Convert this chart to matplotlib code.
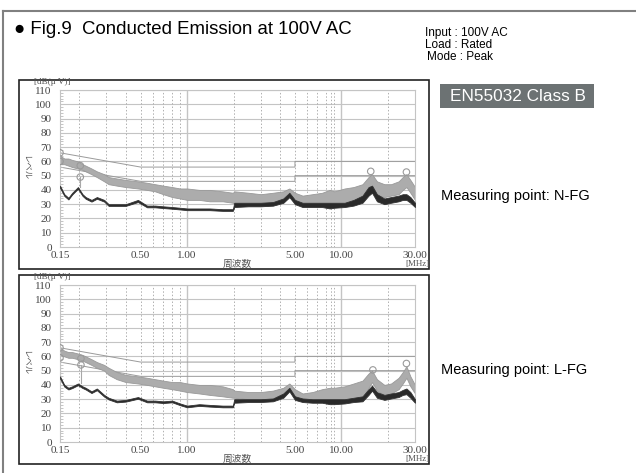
import matplotlib
matplotlib.use("Agg")
import matplotlib.pyplot as plt
from matplotlib.patches import Rectangle
from matplotlib.lines import Line2D

W, H = 636, 473

# frequency grid (MHz) shared by both measurements
freq = [0.15, 0.16, 0.17, 0.18, 0.196, 0.21, 0.22, 0.24, 0.26, 0.29, 0.31, 0.35,
        0.4, 0.48, 0.55, 0.62, 0.7, 0.8, 0.9, 1.0, 1.2, 1.4, 1.7, 1.98, 2.02,
        2.5, 3.0, 3.6, 4.2, 4.6, 5.0, 5.6, 6.5, 7.5, 8.4, 9.0, 10.5, 12.0, 13.7,
        15.0, 15.8, 17.0, 19.0, 21.0, 23.5, 25.0, 26.4, 28.0, 30.0]

# N-FG : peak (grey band) and average (black band) envelopes, dB(uV)
nfg_peak_hi = [64, 62, 62, 61, 60, 58, 57, 55, 53, 51, 49, 48, 47, 46, 45, 44, 43, 42, 41, 41,
               40, 40, 39, 38, 39, 38, 37, 38, 39, 41, 38, 36, 37, 38, 40, 39, 41, 42, 44,
               49, 51, 46, 44, 44, 46, 49, 51, 47, 42]
nfg_peak_lo = [58, 58, 57, 56, 55, 54, 53, 51, 49, 46, 44, 43, 42, 41, 40, 39, 37, 35, 34, 33,
               33, 32, 32, 31, 30, 29, 29, 29, 31, 35, 31, 29, 29, 29, 28, 29, 30, 31, 33,
               39, 42, 36, 35, 36, 37, 40, 42, 38, 33]
nfg_avg_hi = [43, 37, 34.5, 38, 42, 37, 35, 33, 35, 33, 30, 30, 30, 33, 29, 29, 28.5, 28, 27.5, 27,
              27, 27, 26.5, 26.5, 31, 31, 31, 31.5, 34, 38, 33, 31, 31, 31, 31, 31, 31, 33, 36,
              42, 43, 37, 34, 35, 36, 37, 37, 35, 31]
nfg_avg_lo = [41.5, 35.8, 33.3, 36.8, 40.8, 35.8, 33.8, 31.8, 33.8, 31.8, 28.8, 28.8, 28.8, 31.5,
              27.8, 27.8, 27.3, 26.8, 26.3, 25.8, 25.8, 25.8, 25.3, 25.3, 28, 28.5, 28.5, 29, 31,
              35, 30, 28, 28, 28, 27, 27.5, 28, 29, 31, 36, 38, 32, 30, 31, 32, 33, 33, 31, 28]

# L-FG
lfg_peak_hi = [66, 64, 63, 63, 62, 61, 60, 58, 56, 54, 52, 49, 47, 46, 45, 44, 43, 42, 42, 41,
               40, 40, 39, 37, 36, 35, 35, 36, 38, 41, 37, 34, 35, 37, 38, 38, 39, 41, 43,
               48, 50, 44, 40, 41, 45, 49, 53, 46, 40]
lfg_peak_lo = [61, 60, 59, 59, 58, 57, 56, 54, 52, 50, 47, 44, 42, 41, 40, 39, 38, 37, 36, 35,
               34, 33, 32, 31, 31, 30, 30, 30, 32, 37, 32, 29, 29, 29, 28, 28, 28, 29, 31,
               38, 42, 36, 33, 34, 37, 41, 45, 39, 34]
lfg_avg_hi = [46, 40, 38, 39, 41, 39, 38, 35.5, 37.5, 33, 31, 29, 29.5, 31.5, 29, 29, 28.5, 29, 27, 25.5,
              26.5, 26, 25.5, 25.5, 30, 30, 30, 30.5, 34, 38, 32, 30.5, 30, 30, 30, 30, 30, 31, 32,
              37, 39.5, 35, 33, 34, 35, 36.5, 37.5, 35, 30]
lfg_avg_lo = [44.5, 38.8, 36.8, 37.8, 39.8, 37.8, 36.8, 34.3, 36.3, 31.8, 29.8, 27.8, 28.3, 30.3,
              27.8, 27.8, 27.3, 27.8, 25.8, 24.3, 25.3, 24.8, 24.3, 24.3, 27.5, 28, 28, 28.5, 31,
              35.5, 29.5, 28, 27.5, 27.5, 26.5, 26.5, 27, 28, 28.5, 33, 36, 31, 29.5, 30.5, 31.5,
              33, 33.5, 31, 27.5]

# EN55032 class B limits (QP / AV)
lim_f = [0.15, 0.5, 5.0, 5.0, 30.0]
lim_qp = [66, 56, 56, 60, 60]
lim_av = [56, 46, 46, 50, 50]

# measured markers
nfg_mk_f = [0.15, 0.15, 0.203, 0.203, 15.5, 26.4]
nfg_mk_db = [66, 60, 57, 49, 53, 52.5]
nfg_stem = [(0.203, 49, 42)]
lfg_mk_f = [0.15, 0.15, 0.205, 0.205, 16.0, 26.4]
lfg_mk_db = [66, 59, 58.5, 54, 50.5, 55]
lfg_stem = [(0.15, 59, 45), (0.205, 54, 41)]

xticks = [0.15, 0.5, 1.0, 5.0, 10.0, 30.0]
xtick_labels = ["0.15", "0.50", "1.00", "5.00", "10.00", "30.00"]
solid_v = [1.0, 10.0]
dotted_v = [0.2, 0.3, 0.4, 0.5, 0.6, 0.7, 0.8, 0.9, 2, 3, 4, 5, 6, 7, 8, 8.6, 9, 20]

SERIF = ["Liberation Serif", "DejaVu Serif"]
SANS = ["Liberation Sans", "DejaVu Sans"]
JP = ["Noto Sans CJK JP", "DejaVu Sans"]


def fx(x):
    return x / W


def fy(y):
    return 1 - y / H


fig = plt.figure(figsize=(W / 100, H / 100), dpi=100)

# outer frame (top + left edges)
fig.add_artist(Line2D([fx(3), 1.0], [fy(11), fy(11)], color="#808080", lw=1.5))
fig.add_artist(Line2D([fx(3), fx(3)], [fy(11), 0.0], color="#808080", lw=1.5))

fig.text(fx(14), fy(29), "\u25cf Fig.9  Conducted Emission at 100V AC", family=SANS,
         fontsize=13.4, va="center", ha="left")
for i, s in enumerate(["Input : 100V AC", "Load : Rated", "Mode : Peak"]):
    fig.text(fx(425 + (2 if i == 2 else 0)), fy(33 + 12 * i), s, family=SANS,
             fontsize=8.5, va="center", ha="left")

fig.add_artist(Rectangle((fx(440), fy(108)), fx(154), 24 / H, transform=fig.transFigure,
                         fc="#6c7273", ec="none"))
fig.text(fx(450), fy(96.5), "EN55032 Class B", family=SANS, fontsize=12.4, color="white",
         va="center", ha="left")


def panel(top, peak_hi, peak_lo, avg_hi, avg_lo, mk_f, mk_db, stems, label, label_y):
    # panel frame
    fig.add_artist(Rectangle((fx(19), fy(top + 189)), fx(410), 189 / H,
                             transform=fig.transFigure, fill=False, ec="#222", lw=1.2))
    ax_top = top + 10
    ax = fig.add_axes([fx(60), fy(ax_top + 157), fx(355), 157 / H])
    ax.set_xscale("log")
    ax.set_xlim(0.15, 30)
    ax.set_ylim(0, 110)

    for y in range(10, 111, 10):
        ax.axhline(y, color="#c4c4c4", lw=0.8, zorder=0)
    for v in solid_v:
        ax.axvline(v, color="#c4c4c4", lw=1.0, zorder=0)
    for v in dotted_v:
        ax.axvline(v, color="#b0b0b0", lw=0.7, ls=(0, (1.5, 2)), zorder=0)

    ax.plot(lim_f, lim_qp, color="#9a9a9a", lw=0.7, zorder=1)
    ax.plot(lim_f, lim_av, color="#9a9a9a", lw=0.7, zorder=1)

    ax.fill_between(freq, peak_lo, peak_hi, color="#acacac", lw=0.6, ec="#999999", zorder=2)
    ax.fill_between(freq, avg_lo, avg_hi, color="#2a2a2a", lw=0.6, ec="#333333", zorder=3)

    for f, t, b in stems:
        ax.plot([f, f], [b, t], color="#a8a8a8", lw=0.8, zorder=2)
    ax.scatter(mk_f, mk_db, s=22, facecolors="none", edgecolors="#9a9a9a", lw=0.8, zorder=4)

    ax.set_xticks(xticks)
    ax.set_xticklabels(xtick_labels)
    ax.xaxis.set_minor_locator(plt.NullLocator())
    ax.set_yticks(range(0, 111, 10))
    ax.set_yticks(range(0, 111, 2), minor=True)
    ax.tick_params(axis="x", length=0, pad=3, labelsize=8, labelcolor="#444")
    ax.tick_params(axis="y", which="major", length=0, pad=6, labelsize=8, labelcolor="#444")
    ax.tick_params(axis="y", which="minor", length=2.5, direction="in", color="#bbbbbb")
    for t in ax.get_xticklabels() + ax.get_yticklabels():
        t.set_family(SERIF)
    for sp in ax.spines.values():
        sp.set_color("#c4c4c4")
        sp.set_linewidth(0.8)

    fig.text(fx(34), fy(ax_top - 8), "[dB(\u03bc V)]", family=SERIF, fontsize=6.6,
             color="#555", va="center", ha="left")
    fig.text(fx(26), fy(ax_top + 78), "レベル", family=JP, fontsize=6, color="#555",
             rotation=-90, va="center", ha="center")
    fig.text(fx(237), fy(ax_top + 174), "周波数", family=JP, fontsize=7, color="#555",
             va="center", ha="center")
    fig.text(fx(429), fy(ax_top + 174), "[MHz]", family=SERIF, fontsize=6.5, color="#555",
             va="center", ha="right")
    fig.text(fx(441), fy(label_y), label, family=SANS, fontsize=10.5,
             va="center", ha="left")
    return ax


panel(80, nfg_peak_hi, nfg_peak_lo, nfg_avg_hi, nfg_avg_lo, nfg_mk_f, nfg_mk_db, nfg_stem,
      "Measuring point: N-FG", 196)
panel(275, lfg_peak_hi, lfg_peak_lo, lfg_avg_hi, lfg_avg_lo, lfg_mk_f, lfg_mk_db, lfg_stem,
      "Measuring point: L-FG", 370)

fig.savefig("out.png", dpi=100)
